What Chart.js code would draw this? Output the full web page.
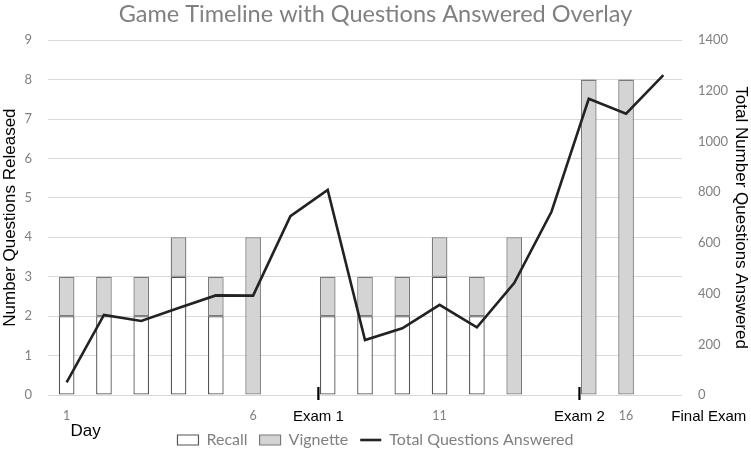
<!DOCTYPE html>
<html>
<head>
<meta charset="utf-8">
<script src="https://cdn.jsdelivr.net/npm/chart.js@4"></script>
<style>
  html, body { margin: 0; padding: 0; background: #fff; }
  #wrap { width: 751px; height: 450px; }
</style>
</head>
<body>
<div id="wrap"><canvas id="myChart"></canvas></div>
<script>
// data
const days = ['1', '2', '3', '4', '5', '6', '7', '8', '9', '10', '11', '12', '13', '14', '15', '16', '17'];
const recall = [2, 2, 2, 3, 2, 0, 0, 2, 2, 2, 3, 2, 0, 0, 0, 0, 0];
const vignette = [1, 1, 1, 1, 1, 4, 0, 1, 1, 1, 1, 1, 4, 0, 8, 8, 0];
const totalAnswered = [50, 316, 292, 343, 393, 392, 706, 809, 217, 263, 356, 267, 442, 723, 1169, 1110, 1262];

// exams on the day timeline (in day units)
const examNames = ['Exam 1', 'Exam 2', 'Final Exam'];
const examDays = [7.75, 14.75, 18.22];
const examHasTick = [true, true, false];

const grayText = '#808080';
const gridColor = '#d9d9d9';

// text and marks under the x axis
const examPlugin = {
  id: 'examPlugin',
  afterDraw(chart) {
    const ctx = chart.ctx;
    const x = chart.scales.x;
    const base = chart.scales.y.getPixelForValue(0);
    const x0 = x.getPixelForValue(0);
    const step = x.getPixelForValue(1) - x0;
    ctx.save();
    examNames.forEach((name, i) => {
      const px = x0 + (examDays[i] - 1) * step;
      if (examHasTick[i]) {
        ctx.strokeStyle = '#000';
        ctx.lineWidth = 2.2;
        ctx.beginPath();
        ctx.moveTo(px, base - 8);
        ctx.lineTo(px, base + 5);
        ctx.stroke();
      }
      ctx.fillStyle = '#000';
      ctx.font = '15px "Liberation Sans", Arial, sans-serif';
      ctx.textAlign = 'center';
      ctx.textBaseline = 'middle';
      ctx.fillText(name, px, base + 22);
    });
    ctx.font = '17px "Liberation Sans", Arial, sans-serif';
    ctx.textAlign = 'center';
    ctx.textBaseline = 'middle';
    ctx.fillText('Day', x0 + 19, base + 36);
    ctx.restore();
  }
};

// no bar where nothing was released
const noZero = (arr) => arr.map((v) => (v === 0 ? null : v));

const ctx = document.querySelector('#myChart').getContext('2d');
const myChart = new Chart(ctx, {
  type: 'bar',
  data: {
    labels: days,
    datasets: [
      {
        label: 'Recall',
        data: noZero(recall),
        backgroundColor: '#ffffff',
        borderColor: '#555555',
        borderWidth: 1.3,
        borderSkipped: false,
        yAxisID: 'y',
        order: 1,
      },
      {
        label: 'Vignette',
        data: noZero(vignette),
        backgroundColor: '#d4d4d4',
        borderColor: '#7a7a7a',
        borderWidth: 1.3,
        borderSkipped: false,
        yAxisID: 'y',
        order: 1,
      },
      {
        type: 'line',
        label: 'Total Questions Answered',
        data: totalAnswered,
        borderColor: '#222222',
        backgroundColor: '#222222',
        borderWidth: 2.6,
        pointRadius: 0,
        tension: 0,
        yAxisID: 'y1',
        order: 0,
      },
    ],
  },
  options: {
    responsive: true,
    maintainAspectRatio: false,
    animation: false,
    layout: { padding: { top: 0, left: 0, right: 0, bottom: -8 } },
    datasets: {
      bar: { categoryPercentage: 1, barPercentage: 0.42 },
    },
    plugins: {
      title: {
        display: true,
        text: 'Game Timeline with Questions Answered Overlay',
        color: grayText,
        font: { family: 'Lato', size: 23.5, weight: 'normal' },
        padding: { top: 0, bottom: 12 },
      },
      legend: {
        position: 'bottom',
        labels: {
          usePointStyle: true,
          pointStyleWidth: 21,
          boxHeight: 10,
          color: grayText,
          font: { family: 'Lato', size: 16 },
          padding: 12,
          sort: (a, b) => a.datasetIndex - b.datasetIndex,
          generateLabels: (chart) => {
            const items = Chart.defaults.plugins.legend.labels.generateLabels(chart);
            items.forEach((it) => {
              it.pointStyle = it.datasetIndex === 2 ? 'line' : 'rect';
              if (it.datasetIndex === 2) it.lineWidth = 2.6;
              else it.lineWidth = 1.2;
            });
            return items;
          },
        },
      },
      tooltip: { enabled: false },
    },
    scales: {
      x: {
        stacked: true,
        grid: { display: false },
        border: { display: false },
        ticks: {
          autoSkip: false,
          maxRotation: 0,
          color: grayText,
          font: { family: 'Lato', size: 12.5 },
          padding: 5,
          callback: function (val, i) {
            return i % 5 === 0 ? days[i] : '';
          },
        },
        afterFit: (scale) => { scale.height = 25; },
      },
      y: {
        stacked: true,
        position: 'left',
        min: 0,
        max: 9,
        grid: { color: gridColor, drawTicks: false },
        border: { display: false },
        ticks: {
          stepSize: 1,
          color: grayText,
          font: { family: 'Lato', size: 13 },
          padding: 16,
        },
        title: {
          display: true,
          text: 'Number Questions Released',
          color: '#000',
          font: { family: 'Liberation Sans', size: 17 },
          padding: 0,
        },
        afterFit: (scale) => { scale.width = 48; },
      },
      y1: {
        position: 'right',
        min: 0,
        max: 1400,
        grid: { display: false },
        border: { display: false },
        ticks: {
          stepSize: 200,
          color: grayText,
          font: { family: 'Lato', size: 13 },
          padding: 8,
          callback: (v) => String(v),
        },
        title: {
          display: true,
          text: 'Total Number Questions Answered',
          color: '#000',
          font: { family: 'Liberation Sans', size: 17 },
          padding: 0,
        },
        afterFit: (scale) => { scale.width = 69; },
      },
    },
  },
  plugins: [examPlugin],
});
</script>
</body>
</html>
